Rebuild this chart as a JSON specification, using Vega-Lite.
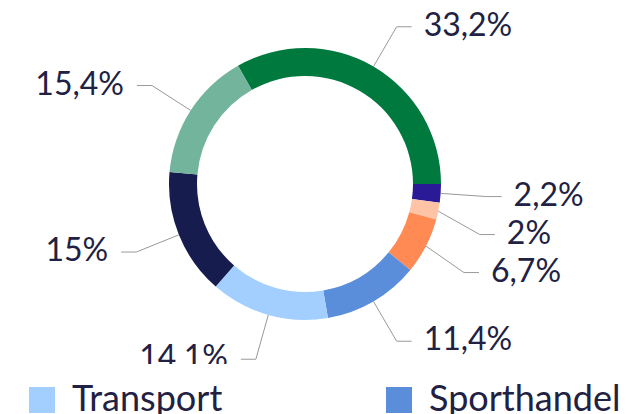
{
  "$schema": "https://vega.github.io/schema/vega-lite/v6.json",
  "width": 610,
  "height": 368,
  "padding": 0,
  "autosize": {"type": "pad"},
  "background": "white",
  "config": {
    "view": {"stroke": null},
    "font": "Lato",
    "locale": {"number": {"decimal": ",", "thousands": ".", "grouping": [3], "currency": ["", "%"]}}
  },
  "data": {
    "values": [
      {"category": "Sporttourismus", "value": 33.2},
      {"category": "Medien", "value": 2.2},
      {"category": "Sportwetten", "value": 2},
      {"category": "Bildung", "value": 6.7},
      {"category": "Sporthandel", "value": 11.4},
      {"category": "Transport", "value": 14.1},
      {"category": "Vereine", "value": 15},
      {"category": "Sportanlagen", "value": 15.4}
    ]
  },
  "transform": [
    {"window": [{"op": "row_number", "as": "idx"}]},
    {"stack": "value", "groupby": [], "sort": [{"field": "idx", "order": "ascending"}], "as": ["v0", "v1"]},
    {"calculate": "-0.51522 + PI * (datum.v0 + datum.v1) / 100", "as": "a"},
    {"calculate": "sin(datum.a) >= 0 ? 1 : -1", "as": "side"},
    {"calculate": "-182 * cos(datum.a)", "as": "ny"},
    {"window": [{"op": "row_number", "as": "k"}], "groupby": ["side"], "sort": [{"field": "ny", "order": "ascending"}]},
    {"calculate": "datum.ny - 38 * datum.k", "as": "t"},
    {"window": [{"op": "max", "field": "t", "as": "m"}], "groupby": ["side"], "sort": [{"field": "ny", "order": "ascending"}], "frame": [null, 0]},
    {"calculate": "38 * datum.k + datum.m", "as": "ly"},
    {"calculate": "datum.side * sqrt(182 * 182 - datum.ly * datum.ly)", "as": "lx"},
    {"calculate": "136 * sin(datum.a)", "as": "x0"},
    {"calculate": "-136 * cos(datum.a)", "as": "y0"},
    {"calculate": "datum.lx + datum.side * 15", "as": "sx"}
  ],
  "layer": [
    {
      "mark": {"type": "arc", "innerRadius": 108, "outerRadius": 136},
      "encoding": {
        "theta": {"field": "v0", "type": "quantitative", "stack": null, "scale": {"domain": [0, 100], "range": [-0.51522, 5.76797]}},
        "theta2": {"field": "v1"},
        "color": {
          "field": "category",
          "type": "nominal",
          "scale": {
            "domain": ["Transport", "Sporthandel", "Vereine", "Sporttourismus", "Bildung", "Sportanlagen", "Medien", "Sportwetten"],
            "range": ["#A2CFFF", "#5B8EDA", "#161C4D", "#00793F", "#FF8A53", "#73B59C", "#2A1A98", "#FFC3A5"]
          },
          "legend": {
            "title": null,
            "orient": "none",
            "legendX": 6,
            "legendY": 364,
            "direction": "horizontal",
            "columns": 2,
            "columnPadding": 158,
            "gridAlign": "each",
            "rowPadding": 10,
            "symbolType": "square",
            "symbolSize": 676,
            "symbolStrokeWidth": 0,
            "labelFont": "Lato",
            "labelFontSize": 36,
            "labelColor": "#212143",
            "labelOffset": 12,
            "labelLimit": 400,
            "padding": 18,
            "fillColor": "white"
          }
        }
      }
    },
    {
      "mark": {"type": "rule", "color": "#999999", "strokeWidth": 1},
      "encoding": {
        "x": {"field": "x0", "type": "quantitative", "axis": null, "scale": {"domain": [-305, 305], "nice": false, "zero": false}},
        "y": {"field": "y0", "type": "quantitative", "axis": null, "scale": {"domain": [-184, 184], "reverse": true, "nice": false, "zero": false}},
        "x2": {"field": "lx"},
        "y2": {"field": "ly"}
      }
    },
    {
      "mark": {"type": "rule", "color": "#999999", "strokeWidth": 1},
      "encoding": {
        "x": {"field": "lx", "type": "quantitative", "axis": null, "scale": {"domain": [-305, 305], "nice": false, "zero": false}},
        "x2": {"field": "sx"},
        "y": {"field": "ly", "type": "quantitative", "axis": null, "scale": {"domain": [-184, 184], "reverse": true, "nice": false, "zero": false}}
      }
    },
    {
      "transform": [{"filter": "datum.side > 0"}],
      "mark": {"type": "text", "font": "Lato", "fontSize": 32, "color": "#212143", "align": "left", "baseline": "middle", "dx": 27, "dy": -1},
      "encoding": {
        "x": {"field": "lx", "type": "quantitative", "axis": null, "scale": {"domain": [-305, 305], "nice": false, "zero": false}},
        "y": {"field": "ly", "type": "quantitative", "axis": null, "scale": {"domain": [-184, 184], "reverse": true, "nice": false, "zero": false}},
        "text": {"field": "value", "type": "quantitative", "format": "$.1~f"}
      }
    },
    {
      "transform": [{"filter": "datum.side < 0"}],
      "mark": {"type": "text", "font": "Lato", "fontSize": 32, "color": "#212143", "align": "right", "baseline": "middle", "dx": -28, "dy": -1},
      "encoding": {
        "x": {"field": "lx", "type": "quantitative", "axis": null, "scale": {"domain": [-305, 305], "nice": false, "zero": false}},
        "y": {"field": "ly", "type": "quantitative", "axis": null, "scale": {"domain": [-184, 184], "reverse": true, "nice": false, "zero": false}},
        "text": {"field": "value", "type": "quantitative", "format": "$.1~f"}
      }
    }
  ]
}
